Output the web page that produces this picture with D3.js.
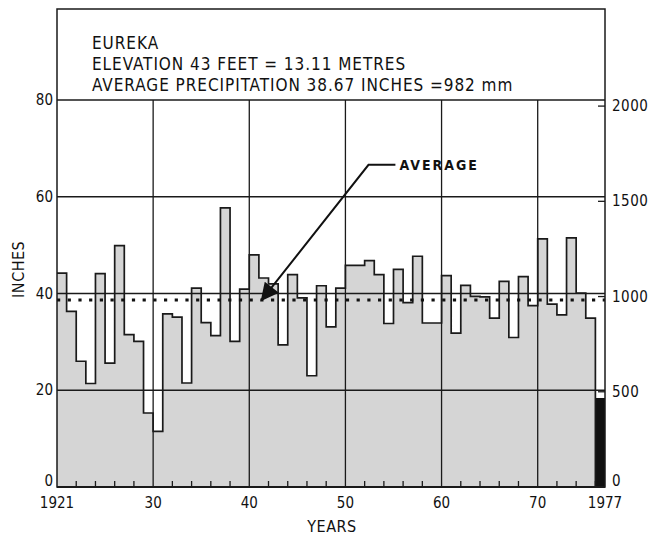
<!DOCTYPE html>
<html>
<head>
<meta charset="utf-8">
<script src="https://cdn.jsdelivr.net/npm/d3@7"></script>
<style>
  body { margin: 0; background: #fff; }
  svg text { font-family: "DejaVu Sans Condensed", "Liberation Sans Narrow", "DejaVu Sans", sans-serif; fill: #111; }
</style>
</head>
<body>
<div id="chart"></div>
<script>
// annual precipitation at Eureka, inches (water years 1921-1976)
const firstYear = 1921;
const precip = [
  44.2, 36.3, 26.0, 21.4, 44.1, 25.6, 49.9, 31.5, 30.1, 15.3,
  11.5, 35.8, 35.1, 21.5, 41.1, 34.0, 31.3, 57.7, 30.1, 40.9,
  48.0, 43.2, 42.0, 29.4, 43.9, 39.1, 23.0, 41.6, 33.1, 41.1,
  45.8, 45.8, 46.8, 43.9, 33.8, 45.0, 38.1, 47.7, 33.9, 33.9,
  43.7, 31.8, 41.7, 39.4, 39.3, 34.9, 42.5, 30.9, 43.5, 37.5,
  51.3, 37.8, 35.6, 51.5, 40.1, 34.9
];
// 1977 (partial / drought year) drawn black
const lastYear = 1977;
const lastValue = 18.4;
const average = 38.67;

const inchTicks = [0, 20, 40, 60, 80];
const mmTicks = [0, 500, 1000, 1500, 2000];
const decadeLines = [1930, 1940, 1950, 1960, 1970];
const yearLabels = [[1920, '1921'], [1930, '30'], [1940, '40'], [1950, '50'], [1960, '60'], [1970, '70'], [1977, '1977']];
const titleLines = [
  'EUREKA',
  'ELEVATION 43 FEET = 13.11 METRES',
  'AVERAGE PRECIPITATION 38.67 INCHES =982 mm'
];
// leader of the "AVERAGE" note, in year / inch units
const notePath = [[1941.3, average], [1952.4, 66.6], [1955.2, 66.6]];

const width = 654, height = 541;
const plotL = 57, plotR = 605, plotT = 100, plotB = 487, boxTop = 9;

const svg = d3.select('#chart').append('svg')
  .attr('width', width)
  .attr('height', height);

const x = d3.scaleLinear().domain([firstYear - 1, lastYear]).range([plotL, plotR]);
const y = d3.scaleLinear().domain([0, 80]).range([plotB, plotT]);
const yMm = d3.scaleLinear().domain([0, 80 * 25.4]).range([plotB, plotT]);

// step points: bar for year Y spans Y-1 .. Y
const pts = precip.map((v, i) => ({ yr: firstYear - 1 + i, v: v }));
pts.push({ yr: firstYear - 1 + precip.length, v: 0 });

const area = d3.area()
  .curve(d3.curveStepAfter)
  .x(d => x(d.yr))
  .y0(y(0))
  .y1(d => y(d.v));

svg.append('path')
  .datum(pts)
  .attr('d', area)
  .attr('fill', '#d5d5d5');

// black bar for 1977
svg.append('rect')
  .attr('x', x(lastYear - 1))
  .attr('width', x(lastYear) - x(lastYear - 1))
  .attr('y', y(lastValue))
  .attr('height', y(0) - y(lastValue))
  .attr('fill', '#111');

// grid
const grid = svg.append('g').attr('stroke', '#1a1a1a').attr('stroke-width', 1.3);
grid.selectAll('.h')
  .data([20, 40, 60])
  .enter().append('line')
  .attr('x1', plotL).attr('x2', plotR)
  .attr('y1', d => y(d)).attr('y2', d => y(d));
grid.selectAll('.v')
  .data(decadeLines)
  .enter().append('line')
  .attr('x1', d => x(d)).attr('x2', d => x(d))
  .attr('y1', plotT).attr('y2', plotB);

// step outline
const line = d3.line()
  .curve(d3.curveStepAfter)
  .x(d => x(d.yr))
  .y(d => y(d.v));

svg.append('path')
  .datum(pts)
  .attr('d', line)
  .attr('fill', 'none')
  .attr('stroke', '#1a1a1a')
  .attr('stroke-width', 1.7);

// average, dotted
svg.append('line')
  .attr('x1', plotL).attr('x2', plotR)
  .attr('y1', y(average)).attr('y2', y(average))
  .attr('stroke', '#111')
  .attr('stroke-width', 3)
  .attr('stroke-dasharray', '3.2 7.5');

// frame + title box
svg.append('rect')
  .attr('x', plotL).attr('y', boxTop)
  .attr('width', plotR - plotL).attr('height', plotB - boxTop)
  .attr('fill', 'none').attr('stroke', '#1a1a1a').attr('stroke-width', 1.5);
svg.append('line')
  .attr('x1', plotL).attr('x2', plotR)
  .attr('y1', plotT).attr('y2', plotT)
  .attr('stroke', '#1a1a1a').attr('stroke-width', 1.5);
svg.append('line')
  .attr('x1', plotL).attr('x2', plotR)
  .attr('y1', plotB).attr('y2', plotB)
  .attr('stroke', '#1a1a1a').attr('stroke-width', 2.2);

svg.append('g')
  .selectAll('text')
  .data(titleLines)
  .enter().append('text')
  .attr('x', 92)
  .attr('y', (d, i) => 49 + i * 21)
  .style('font-size', '17px')
  .style('letter-spacing', '0.95px')
  .text(d => d);

// minor year ticks along the bottom
const minorTicks = d3.range(1922, 1977, 2).filter(d => d % 10 !== 0);
svg.append('g')
  .selectAll('line')
  .data(minorTicks)
  .enter().append('line')
  .attr('x1', d => x(d)).attr('x2', d => x(d))
  .attr('y1', plotB).attr('y2', plotB - 6)
  .attr('stroke', '#1a1a1a').attr('stroke-width', 1.3);

// right mm ticks
svg.append('g')
  .selectAll('line')
  .data(mmTicks.filter(d => d > 0))
  .enter().append('line')
  .attr('x1', plotR - 7).attr('x2', plotR)
  .attr('y1', d => yMm(d)).attr('y2', d => yMm(d))
  .attr('stroke', '#1a1a1a').attr('stroke-width', 1.3);

// axis labels (the zero labels sit just above the base line)
svg.append('g')
  .selectAll('text')
  .data(inchTicks)
  .enter().append('text')
  .attr('x', plotL - 4)
  .attr('y', d => d === 0 ? y(d) - 1 : y(d) + 5)
  .attr('text-anchor', 'end')
  .style('font-size', '15px')
  .text(d => d);

svg.append('g')
  .selectAll('text')
  .data(mmTicks)
  .enter().append('text')
  .attr('x', plotR + 7)
  .attr('y', d => d === 0 ? yMm(d) - 1 : yMm(d) + 5)
  .style('font-size', '15px')
  .style('letter-spacing', '0.5px')
  .text(d => d);

svg.append('g')
  .selectAll('text')
  .data(yearLabels)
  .enter().append('text')
  .attr('x', d => x(d[0]))
  .attr('y', plotB + 21)
  .attr('text-anchor', 'middle')
  .style('font-size', '15px')
  .text(d => d[1]);

svg.append('text')
  .attr('x', x(1948.6))
  .attr('y', plotB + 45)
  .attr('text-anchor', 'middle')
  .style('font-size', '16px')
  .style('letter-spacing', '0.5px')
  .text('YEARS');

svg.append('text')
  .attr('transform', `translate(24,${y(45)}) rotate(-90)`)
  .attr('text-anchor', 'middle')
  .style('font-size', '16px')
  .style('letter-spacing', '0.5px')
  .text('INCHES');

// "AVERAGE" note with leader and arrowhead
svg.append('defs').append('marker')
  .attr('id', 'head')
  .attr('viewBox', '0 0 10 10')
  .attr('refX', 9).attr('refY', 5)
  .attr('markerWidth', 10).attr('markerHeight', 9)
  .attr('orient', 'auto-start-reverse')
  .append('path')
  .attr('d', 'M0,0 L10,5 L0,10 Z')
  .attr('fill', '#111');

svg.append('path')
  .datum(notePath)
  .attr('d', d3.line().x(d => x(d[0])).y(d => y(d[1])))
  .attr('fill', 'none')
  .attr('stroke', '#111')
  .attr('stroke-width', 2)
  .attr('marker-start', 'url(#head)');

svg.append('text')
  .attr('x', x(notePath[2][0]) + 4)
  .attr('y', y(notePath[2][1]) + 5)
  .style('font-size', '14px')
  .style('font-weight', 'bold')
  .style('letter-spacing', '2px')
  .text('AVERAGE');
</script>
</body>
</html>
